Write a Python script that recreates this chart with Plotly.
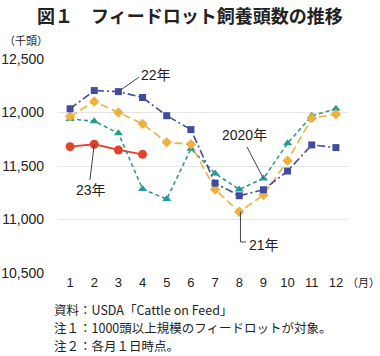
import plotly.graph_objects as go

months = [1, 2, 3, 4, 5, 6, 7, 8, 9, 10, 11, 12]
month_labels = ["1", "2", "3", "4", "5", "6", "7", "8", "9", "10", "11", "12"]
y2020 = [11940, 11919, 11806, 11284, 11191, 11662, 11431, 11281, 11384, 11712, 11969, 12034]
y2021 = [11962, 12103, 12000, 11894, 11722, 11703, 11281, 11072, 11228, 11550, 11947, 11984]
y2022 = [12035, 12205, 12195, 12140, 11970, 11840, 11340, 11222, 11278, 11453, 11697, 11672]
y2023 = [11681, 11703, 11650, 11609]
y_ticks = [10500, 11000, 11500, 12000, 12500]
y_tick_labels = ["10,500", "11,000", "11,500", "12,000", "12,500"]

FONT = "Liberation Sans, Arial, Noto Sans CJK JP, sans-serif"
JFONT = "Noto Sans CJK JP, sans-serif"
TXT = "#222"
LEAD = "#444"

fig = go.Figure()
fig.add_trace(go.Scatter(x=months, y=y2020, mode="lines+markers", name="2020年",
                         line=dict(color="#2a9a90", width=1.6, dash="4px,3px"),
                         marker=dict(symbol="triangle-up", size=8, color="#2a9a90")))
fig.add_trace(go.Scatter(x=months, y=y2021, mode="lines+markers", name="21年",
                         line=dict(color="#f0b040", width=1.6, dash="8px,4px"),
                         marker=dict(symbol="diamond", size=8, color="#f0b040")))
fig.add_trace(go.Scatter(x=months, y=y2022, mode="lines+markers", name="22年",
                         line=dict(color="#434c9c", width=1.6, dash="8px,3px,2px,3px"),
                         marker=dict(symbol="square", size=7, color="#434c9c")))
fig.add_trace(go.Scatter(x=months[:len(y2023)], y=y2023, mode="lines+markers", name="23年",
                         line=dict(color="#e0442a", width=1.8),
                         marker=dict(symbol="circle", size=9, color="#e0442a")))

ann_font = dict(family=FONT, size=14, color=TXT)


def leader(x0, y0, x1, y1):
    fig.add_shape(type="line", xref="x", yref="y", x0=x0, y0=y0, x1=x1, y1=y1,
                  line=dict(color=LEAD, width=1), layer="above")


# 22年
leader(3, y2022[2], 3.85, 12330)
fig.add_annotation(x=3.87, y=12350, text="22年", showarrow=False, xanchor="left", font=ann_font)
# 23年
leader(2, y2023[1], 1.82, 11369)
fig.add_annotation(x=1.865, y=11276, text="23年", showarrow=False, font=ann_font)
# 2020年
leader(8.32, 11678, 9, y2020[8])
fig.add_annotation(x=8.2, y=11790, text="2020年", showarrow=False, font=ann_font)
# 21年
leader(8.05, y2021[7], 8.05, 10790)
leader(8.05, 10790, 8.28, 10790)
fig.add_annotation(x=8.3, y=10762, text="21年", showarrow=False, xanchor="left", font=ann_font)

fig.add_annotation(xref="paper", yref="paper", x=(190 - 58) / 290, y=1, yshift=44,
                   xanchor="center", yanchor="middle",
                   text="<b>図１　フィードロット飼養頭数の推移</b>", showarrow=False,
                   font=dict(family=JFONT, size=18, color=TXT))
fig.add_annotation(xref="paper", yref="paper", x=(2 - 58) / 290, y=1, yshift=19,
                   xanchor="left", yanchor="middle",
                   text="（千頭）", showarrow=False, font=dict(family=JFONT, size=11, color=TXT))
fig.add_annotation(xref="paper", yref="paper", x=(345 - 58) / 290, y=0, yshift=-9,
                   xanchor="left", yanchor="middle", text="（月）", showarrow=False,
                   font=dict(family=JFONT, size=11, color=TXT))
notes = ["資料：USDA「Cattle on Feed」", "注１：1000頭以上規模のフィードロットが対象。", "注２：各月１日時点。"]
for i, t in enumerate(notes):
    fig.add_annotation(xref="paper", yref="paper", x=(52 - 58) / 290, y=0, yshift=-36 - 18 * i,
                       xanchor="left", yanchor="middle", text=t, showarrow=False,
                       font=dict(family=JFONT, size=12.5, color=TXT))

fig.update_layout(
    width=380, height=356,
    margin=dict(l=58, r=32, t=59, b=83, autoexpand=False),
    paper_bgcolor="white", plot_bgcolor="white",
    showlegend=False,
    font=dict(family=FONT, size=13, color=TXT),
    xaxis=dict(range=[0.5, 12.5], tickvals=months, ticktext=month_labels,
               showgrid=False, zeroline=False, showline=False, ticks="",
               tickfont=dict(size=13), automargin=False),
    yaxis=dict(range=[10500, 12500], tickvals=y_ticks, ticktext=y_tick_labels,
               showgrid=True, gridcolor="#e6e6e6", gridwidth=1, zeroline=False,
               showline=False, ticks="", ticklabelstandoff=13, tickfont=dict(size=14),
               automargin=False),
)

fig.write_html("out.html", config={"displayModeBar": False},
               post_script="document.body.style.margin='0';document.body.style.overflow='hidden';")
